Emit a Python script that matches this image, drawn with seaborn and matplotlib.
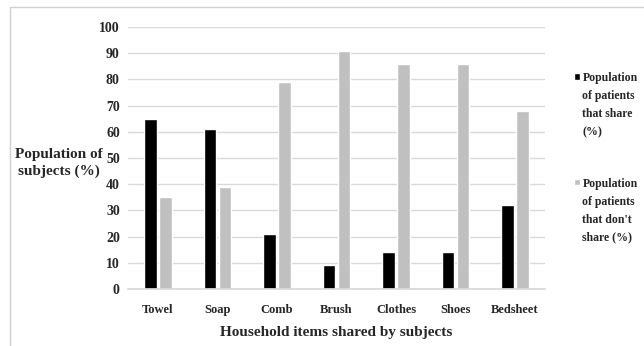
import numpy as np
import pandas as pd
import matplotlib.pyplot as plt
import seaborn as sns
from matplotlib.patches import Rectangle

# =========================================================
# DATA
# =========================================================

items = ["Towel", "Soap", "Comb", "Brush", "Clothes", "Shoes", "Bedsheet"]
share = [65, 61, 21, 9, 14, 14, 32]
dont_share = [35, 39, 79, 91, 86, 86, 68]
y_ticks = list(range(0, 101, 10))

label_share = "Population\nof patients\nthat share\n(%)"
label_dont = "Population\nof patients\nthat don't\nshare (%)"

df = pd.DataFrame({
    "item": items * 2,
    "value": share + dont_share,
    "group": [label_share] * len(items) + [label_dont] * len(items)
})

# =========================================================
# PLOT
# =========================================================

sns.set_theme(style="white")
plt.rcParams["font.family"] = ["Liberation Serif", "DejaVu Serif"]
plt.rcParams["font.weight"] = "bold"

fig = plt.figure(figsize=(6.44, 3.46), dpi=100)
ax = fig.add_axes([0.199, 0.165, 0.647, 0.757])

sns.barplot(
    data=df,
    x="item",
    y="value",
    hue="group",
    palette=["#000000", "#c0c0c0"],
    width=0.5,
    gap=0.15,
    ax=ax
)

ax.set_ylim(0, 100)
ax.set_yticks(y_ticks)
ax.set_xlim(-0.5, len(items) - 0.5)

ax.yaxis.grid(True, color="#d9d9d9", linewidth=1)
ax.set_axisbelow(True)
for side in ["top", "right", "left"]:
    ax.spines[side].set_visible(False)
ax.spines["bottom"].set_color("#d9d9d9")

ax.tick_params(axis="y", length=0, labelsize=10, pad=6)
ax.tick_params(axis="x", length=0, labelsize=9, pad=11)
for lbl in ax.get_xticklabels() + ax.get_yticklabels():
    lbl.set_fontweight("bold")

ax.set_xlabel("Household items shared by subjects", fontsize=11,
              fontweight="bold", labelpad=7)
ax.set_ylabel("Population of\nsubjects (%)", fontsize=11, fontweight="bold",
              rotation=0, ha="center", va="center", linespacing=1.4)
ax.yaxis.set_label_coords(-0.166, 0.48)

leg = ax.legend(
    loc="center left",
    bbox_to_anchor=(1.045, 0.5),
    frameon=False,
    fontsize=8.5,
    handlelength=0.5,
    handleheight=0.5,
    handletextpad=0.2,
    labelspacing=3.4
)
for t in leg.get_texts():
    t.set_fontweight("bold")
    t.set_linespacing(1.65)
# put the square marker next to the first line of each label
for h in leg.legend_handles:
    h.set_y(h.get_y() + 21)

# light frame around the figure (top and left edges visible)
fig.patches.append(Rectangle((10 / 644, -0.1), 1.2, 1.1 - 7 / 346,
                             transform=fig.transFigure, fill=False,
                             edgecolor="#d0d0d0", linewidth=1))

fig.savefig("out.png", dpi=100)
plt.close(fig)
